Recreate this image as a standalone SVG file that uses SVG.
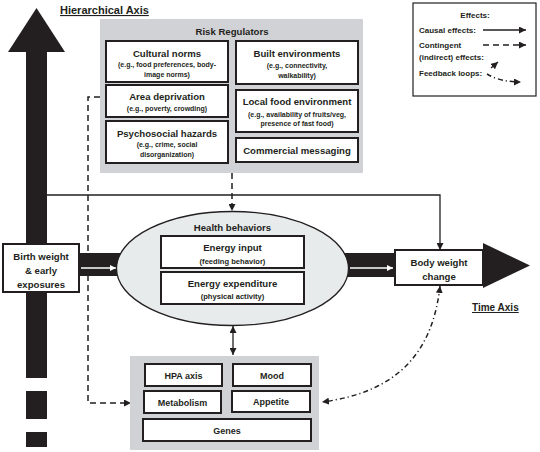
<svg xmlns="http://www.w3.org/2000/svg" width="540" height="452" viewBox="0 0 540 452">
<style>
text{font-family:"Liberation Sans",Arial,sans-serif;font-weight:bold;fill:#231f20;text-anchor:middle}
.t{font-size:9.6px}
.s{font-size:7px}
.s2{font-size:7.6px}
.g{font-size:9px}
.lg{font-size:8px;text-anchor:start}
.box{fill:#fff;stroke:#231f20;stroke-width:2}
.panel{fill:#d1d2d5}
.ln{fill:none;stroke:#231f20;stroke-width:1.3}
.dash{fill:none;stroke:#231f20;stroke-width:1.5;stroke-dasharray:6 4}
.dd{fill:none;stroke:#231f20;stroke-width:1.5;stroke-dasharray:5 3 1.2 3}
.blk{fill:#231f20}
</style>
<defs>
<marker id="ah" viewBox="0 0 10 10" refX="10" refY="5" markerWidth="7" markerHeight="7" markerUnits="userSpaceOnUse" orient="auto-start-reverse"><path d="M0,0 L10,5 L0,10 z" fill="#231f20"/></marker>
<marker id="ahw" viewBox="0 0 10 10" refX="10" refY="5" markerWidth="6" markerHeight="6" markerUnits="userSpaceOnUse" orient="auto"><path d="M0,0 L10,5 L0,10 z" fill="#fff"/></marker>
</defs>

<g id="hierarchical-axis">
<rect class="blk" x="26" y="50" width="21" height="328"/>
<polygon class="blk" points="8,52 36.5,8 65,52"/>
<rect class="blk" x="26" y="391" width="21" height="28"/>
<rect class="blk" x="26" y="432" width="21" height="15"/>
<text x="60" y="14" style="font-size:11px;text-anchor:start;text-decoration:underline">Hierarchical Axis</text>
</g>

<g id="time-axis">
<rect class="blk" x="79" y="253" width="50" height="23"/>
<rect class="blk" x="335" y="253" width="60" height="24"/>
<polygon class="blk" points="483,243 530,265.5 483,288"/>
<text x="472" y="311" style="font-size:10px;text-anchor:start;text-decoration:underline">Time Axis</text>
</g>

<g id="connectors">
<path class="ln" d="M47,195 H440 V250" marker-end="url(#ah)"/>
<path class="dash" d="M232,173 V211" marker-end="url(#ah)"/>
<path class="dash" d="M100,97 H88 V403 H131" marker-end="url(#ah)"/>
<path class="ln" d="M233,326 V355" stroke-width="1.6" marker-start="url(#ah)" marker-end="url(#ah)"/>
<path class="dd" d="M440,286 C433,350 400,392 322,402" marker-start="url(#ah)" marker-end="url(#ah)"/>
<path d="M81,268 H116" stroke="#fff" stroke-width="1.6" fill="none" marker-end="url(#ahw)"/>
<path d="M350,268 H393" stroke="#fff" stroke-width="1.6" fill="none" marker-end="url(#ahw)"/>
</g>

<g id="risk-regulators">
<rect class="panel" x="100" y="19" width="263" height="154"/>
<text class="t" x="232" y="35">Risk Regulators</text>
</g>
<g id="cultural-norms">
<rect class="box" x="106" y="41" width="122" height="41"/>
<text class="t" x="167" y="57">Cultural norms</text>
<text class="s" x="167" y="67">(e.g., food preferences, body-</text>
<text class="s" x="167" y="77">image norms)</text>
</g>
<g id="area-deprivation">
<rect class="box" x="106" y="85" width="122" height="32"/>
<text class="t" x="167" y="100">Area deprivation</text>
<text class="s" x="167" y="111">(e.g., poverty, crowding)</text>
</g>
<g id="psychosocial-hazards">
<rect class="box" x="106" y="121" width="122" height="42"/>
<text class="t" x="167" y="137">Psychosocial hazards</text>
<text class="s" x="167" y="147">(e.g., crime, social</text>
<text class="s" x="167" y="157">disorganization)</text>
</g>
<g id="built-environments">
<rect class="box" x="236" y="41" width="122" height="43"/>
<text class="t" x="297" y="57">Built environments</text>
<text class="s" x="297" y="68">(e.g., connectivity,</text>
<text class="s" x="297" y="78">walkability)</text>
</g>
<g id="local-food-environment">
<rect class="box" x="236" y="90" width="122" height="42"/>
<text class="t" x="297" y="105">Local food environment</text>
<text class="s" x="297" y="117">(e.g., availability of fruits/veg,</text>
<text class="s" x="297" y="126">presence of fast food)</text>
</g>
<g id="commercial-messaging">
<rect class="box" x="236" y="138" width="122" height="24"/>
<text class="t" x="297" y="154">Commercial messaging</text>
</g>

<g id="legend">
<rect x="413" y="3" width="123" height="93" fill="#fff" stroke="#231f20" stroke-width="1.2"/>
<text x="475" y="18" style="font-size:8px">Effects:</text>
<text class="lg" x="419" y="33">Causal effects:</text>
<text class="lg" x="419" y="48">Contingent</text>
<text class="lg" x="419" y="60">(indirect) effects:</text>
<text class="lg" x="419" y="76">Feedback loops:</text>
<path class="ln" d="M483,30 H526" marker-end="url(#ah)"/>
<path class="dash" d="M483,45 H526" stroke-width="1.3" marker-end="url(#ah)"/>
<path class="ln" d="M491,68 L498,62" marker-end="url(#ah)"/>
<path class="dd" d="M487,74 Q500,82 521,82" stroke-width="1.2" marker-end="url(#ah)"/>
</g>

<g id="birth-weight">
<rect class="box" x="3" y="244" width="76" height="48"/>
<text class="t" x="41" y="260">Birth weight</text>
<text class="t" x="41" y="274">&amp; early</text>
<text class="t" x="41" y="288">exposures</text>
</g>

<g id="health-behaviors">
<ellipse cx="232.5" cy="268.5" rx="116" ry="57" fill="#e7ebeb" stroke="#231f20" stroke-width="1.3"/>
<text class="t" x="232.5" y="231">Health behaviors</text>
</g>
<g id="energy-input">
<rect class="box" x="161" y="236" width="143" height="32"/>
<text class="t" x="232.5" y="251">Energy input</text>
<text class="s2" x="232.5" y="264">(feeding behavior)</text>
</g>
<g id="energy-expenditure">
<rect class="box" x="161" y="272" width="143" height="32"/>
<text class="t" x="232.5" y="287">Energy expenditure</text>
<text class="s2" x="232.5" y="299">(physical activity)</text>
</g>

<g id="body-weight-change">
<rect class="box" x="395" y="250" width="88" height="35"/>
<text class="t" x="439" y="266">Body weight</text>
<text class="t" x="439" y="280">change</text>
</g>

<g id="biology">
<rect class="panel" x="130" y="356" width="189" height="94"/>
</g>
<g id="hpa-axis">
<rect class="box" x="145" y="364" width="77" height="22"/>
<text class="g" x="183.5" y="378.5">HPA axis</text>
</g>
<g id="mood">
<rect class="box" x="233" y="364" width="78" height="22"/>
<text class="g" x="272" y="378.5">Mood</text>
</g>
<g id="metabolism">
<rect class="box" x="144" y="391" width="77" height="22"/>
<text class="g" x="182.5" y="405.5">Metabolism</text>
</g>
<g id="appetite">
<rect class="box" x="232" y="391" width="78" height="21"/>
<text class="g" x="271" y="405">Appetite</text>
</g>
<g id="genes">
<rect class="box" x="143" y="419" width="168" height="22"/>
<text class="g" x="227" y="433.5">Genes</text>
</g>
</svg>
